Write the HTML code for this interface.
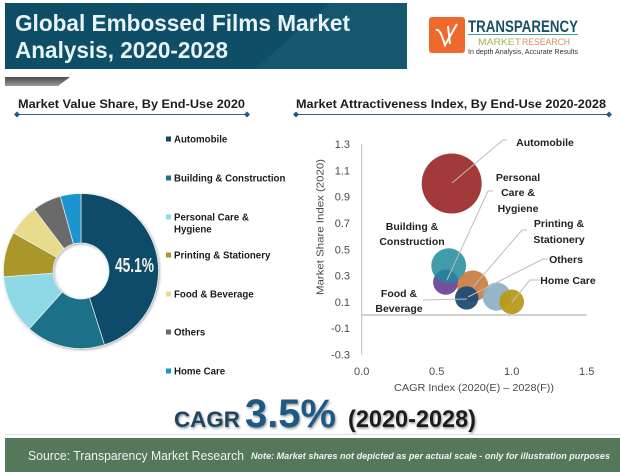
<!DOCTYPE html>
<html lang="en">
<head>
<meta charset="utf-8">
<title>Global Embossed Films Market Analysis</title>
<style>
html,body{margin:0;padding:0;background:#fff;}
svg{display:block;font-family:"Liberation Sans",sans-serif;}
.lg{font-size:9.7px;font-weight:bold;fill:#1c1c1c;}
.lb{font-size:10.5px;font-weight:bold;fill:#222;text-anchor:middle;}
.tk{font-size:11px;fill:#4a4a4a;}
</style>
</head>
<body>
<svg id="chart" width="620" height="472" viewBox="0 0 620 472" xmlns="http://www.w3.org/2000/svg">
<defs>
<linearGradient id="tg" x1="0" x2="1" y1="0" y2="0"><stop offset="0" stop-color="#0d4d66"/><stop offset="1" stop-color="#0f4f68"/></linearGradient>
<linearGradient id="gr" x1="0" x2="0" y1="0" y2="1"><stop offset="0" stop-color="#4a4a4a"/><stop offset="1" stop-color="#9a9a9a"/></linearGradient>
<filter id="ds" x="-10%" y="-10%" width="120%" height="120%"><feDropShadow dx="1" dy="1" stdDeviation="1.2" flood-color="#777" flood-opacity=".6"/></filter>
<filter id="ts" x="-10%" y="-10%" width="120%" height="130%"><feDropShadow dx="1" dy="1.5" stdDeviation="1" flood-color="#555" flood-opacity=".6"/></filter>
</defs>

<g>
<rect x="5" y="3" width="402" height="66" fill="url(#tg)"/>
<polygon points="255,69 330,3 407,3 407,69" fill="#15586e"/>
<text x="15" y="31" font-size="23.5" font-weight="bold" fill="#e8f3f5" textLength="335" lengthAdjust="spacingAndGlyphs">Global Embossed Films Market</text>
<text x="15" y="58" font-size="23.5" font-weight="bold" fill="#e8f3f5" textLength="213" lengthAdjust="spacingAndGlyphs">Analysis, 2020-2028</text>
</g>
<polygon points="5,77 70,77 58,86 5,86" fill="url(#gr)"/>

<g>
<rect x="429" y="17" width="36" height="36" rx="3" fill="#ee6a2c"/>
<path d="M436 30 C440 29 442 36 445 45 L457 24 M448 26 L450 44" fill="none" stroke="#fff" stroke-width="2"/>
<text x="468" y="32" font-size="17" font-weight="bold" fill="#1b4f66" textLength="110" lengthAdjust="spacingAndGlyphs">TRANSPARENCY</text>
<rect x="468" y="34" width="110" height="1" fill="#3aa0a8"/>
<text x="478" y="45" font-size="9.5" fill="#a9b04a" textLength="43" lengthAdjust="spacingAndGlyphs">MARKET</text>
<text x="522" y="45" font-size="9.5" fill="#d98a5c" textLength="48" lengthAdjust="spacingAndGlyphs">RESEARCH</text>
<text x="468" y="54" font-size="7.5" fill="#333" textLength="110" lengthAdjust="spacingAndGlyphs">In depth Analysis, Accurate Results</text>
</g>

<g>
<text x="18" y="108" font-size="12" font-weight="bold" fill="#1c1c1c" textLength="227" lengthAdjust="spacingAndGlyphs">Market Value Share, By End-Use 2020</text>
<line x1="17" y1="114.5" x2="247" y2="114.5" stroke="#3b5f7a" stroke-width="1"/>
<polygon points="17,111.5 20,114.5 17,117.5 14,114.5" fill="#1f5a85"/>
<polygon points="247,111.5 250,114.5 247,117.5 244,114.5" fill="#1f5a85"/>
</g>
<g>
<text x="296" y="108" font-size="12" font-weight="bold" fill="#1c1c1c" textLength="310" lengthAdjust="spacingAndGlyphs">Market Attractiveness Index, By End-Use 2020-2028</text>
<line x1="296" y1="114.5" x2="609" y2="114.5" stroke="#3b5f7a" stroke-width="1"/>
<polygon points="296,111.5 299,114.5 296,117.5 293,114.5" fill="#1f5a85"/>
<polygon points="609,111.5 612,114.5 609,117.5 606,114.5" fill="#1f5a85"/>
</g>

<g id="donut" filter="url(#ds)"></g>
<text x="115" y="272" font-size="20" font-weight="bold" fill="#f2f2f2" textLength="39" lengthAdjust="spacingAndGlyphs">45.1%</text>
<g id="legend"></g>

<g id="axes"></g>
<g id="bubbles"></g>
<g id="leaders" fill="none" stroke="#bcbcbc" stroke-width="1">
<polyline points="452,183 503,140 507,140"/>
<polyline points="447,280 488,191 493,191"/>
<polyline points="473,287 522,230 527,230"/>
<polyline points="468,297 543,259 548,259"/>
<polyline points="512,302 530,280 540,280"/>
<polyline points="423,300 467,299"/>
</g>
<g>
<text class="lb" x="545" y="146">Automobile</text>
<text class="lb" x="518" y="181">Personal</text>
<text class="lb" x="518" y="196">Care &amp;</text>
<text class="lb" x="518" y="212">Hygiene</text>
<text class="lb" x="559" y="227">Printing &amp;</text>
<text class="lb" x="559" y="243">Stationery</text>
<text class="lb" x="566" y="263">Others</text>
<text class="lb" x="568" y="284">Home Care</text>
<text class="lb" x="412" y="230">Building &amp;</text>
<text class="lb" x="412" y="245">Construction</text>
<text class="lb" x="399" y="297">Food &amp;</text>
<text class="lb" x="399" y="312">Beverage</text>
</g>

<g>
<text x="174" y="427" font-size="22" font-weight="bold" fill="#1f4560" filter="url(#ts)" textLength="66" lengthAdjust="spacingAndGlyphs">CAGR</text>
<text x="245" y="427" font-size="40" font-weight="bold" fill="#1f5a85" filter="url(#ts)" textLength="91" lengthAdjust="spacingAndGlyphs">3.5%</text>
<text x="348" y="427" font-size="24" font-weight="bold" fill="#1c1c1c" filter="url(#ts)" textLength="128" lengthAdjust="spacingAndGlyphs">(2020-2028)</text>
</g>
<line x1="5" y1="434.5" x2="620" y2="434.5" stroke="#ddd" stroke-width="1"/>
<g>
<rect x="5" y="438" width="615" height="34" fill="#55785a"/>
<text x="28" y="460" font-size="13" fill="#eef3ee" textLength="216" lengthAdjust="spacingAndGlyphs">Source: Transparency Market Research</text>
<text x="251" y="459" font-size="9.5" font-weight="bold" font-style="italic" fill="#eef3ee" textLength="359" lengthAdjust="spacingAndGlyphs">Note: Market shares not depicted as per actual scale - only for illustration purposes</text>
</g>

<script>
const categories = ['Automobile','Building & Construction','Personal Care & Hygiene','Printing & Stationery','Food & Beverage','Others','Home Care'];
const shareValues = [45.1,16.5,12.2,9.4,6.5,6.0,4.3];
const cagrIndex = [0.6,0.58,0.56,0.74,0.7,0.9,1.0];
const marketShareIndex = [1.0,0.375,0.25,0.22,0.13,0.14,0.1];
const bubbleSizeIndex = [1.0,0.58,0.42,0.52,0.39,0.47,0.41];
const yTickLabels = ['1.3','1.1','0.9','0.7','0.5','0.3','0.1','-0.1','-0.3'];
const xTickLabels = ['0.0','0.5','1.0','1.5'];

const NS = 'http://www.w3.org/2000/svg';
const donutColors = ['#0f4c68','#1b7189','#8fd8e6','#ab962a','#e6dc8c','#6a6a6a','#1b95cf'];
const bubbleOrder = [0,2,1,3,5,6,4];
const bubbleColors = ['#a33a3a','#1e8a9c','#6a4a93','#c9793d','#1f4b73','#8eb2c5','#b79a1a'];
const bubbleOpacity = [1,.85,.95,.9,.95,.95,.95];
const xScale = v => 361.7 + v * 150;
const yScale = v => 315 - v * 131.5;
const rScale = v => v * 30;
function mk(tag, attrs, parent){
  const e = document.createElementNS(NS, tag);
  for (const k in attrs) e.setAttribute(k, attrs[k]);
  parent.appendChild(e);
  return e;
}

const donut = document.getElementById('donut');
const total = shareValues.reduce((a,b)=>a+b,0);
const cx = 81, cy = 271, ro = 77.5, ri = 28;
let acc = 0;
shareValues.forEach((v,i)=>{
  const a0 = acc/total*2*Math.PI; acc += v;
  const a1 = acc/total*2*Math.PI;
  const p = (r,a)=>(cx+r*Math.sin(a)).toFixed(2)+' '+(cy-r*Math.cos(a)).toFixed(2);
  const large = a1-a0 > Math.PI ? 1 : 0;
  const slice = mk('path',{d:`M${p(ro,a0)} A${ro} ${ro} 0 ${large} 1 ${p(ro,a1)} L${p(ri,a1)} A${ri} ${ri} 0 ${large} 0 ${p(ri,a0)} Z`,fill:donutColors[i],stroke:'#e8f4f6','stroke-width':0.7},donut);
  
  
});

const legend = document.getElementById('legend');
const legendY = [139,178,217,255,294,332,371];
categories.forEach((c,i)=>{
  const sw = mk('rect',{x:166,y:legendY[i]-2.5,width:5,height:5,fill:donutColors[i]},legend);
  
  
  const lines = c === 'Personal Care & Hygiene' ? ['Personal Care &','Hygiene'] : [c];
  lines.forEach((ln,j)=>{
    const t = mk('text',{x:174,y:legendY[i]+3.5+j*12,class:'lg'},legend);
    t.textContent = ln;
    
    
  });
});

const axes = document.getElementById('axes');
mk('line',{x1:xScale(0),x2:xScale(0),y1:yScale(1.3),y2:yScale(-0.3),stroke:'#bdbdbd','stroke-width':1},axes);
mk('line',{x1:xScale(0),x2:xScale(1.5),y1:yScale(0),y2:yScale(0),stroke:'#a5a5a5','stroke-width':1},axes);
yTickLabels.forEach(s=>{
  const t = mk('text',{x:350,y:yScale(parseFloat(s))+4,class:'tk','text-anchor':'end'},axes);
  t.textContent = s;
  
  
});
xTickLabels.forEach(s=>{
  const t = mk('text',{x:xScale(parseFloat(s)),y:375,class:'tk','text-anchor':'middle'},axes);
  t.textContent = s;
  
  
});
const xTitle = mk('text',{x:474,y:391,'font-size':10.5,fill:'#4a4a4a','text-anchor':'middle',textLength:160,lengthAdjust:'spacingAndGlyphs'},axes);
xTitle.textContent = 'CAGR Index (2020(E) \u2013 2028(F))';


const yTitle = mk('text',{transform:'translate(323.5,227) rotate(-90)','font-size':10.5,fill:'#4a4a4a','text-anchor':'middle',textLength:136,lengthAdjust:'spacingAndGlyphs'},axes);
yTitle.textContent = 'Market Share Index (2020)';



const bubbles = document.getElementById('bubbles');
bubbleOrder.forEach(i=>{
  const b = mk('circle',{cx:xScale(cagrIndex[i]),cy:yScale(marketShareIndex[i]),r:rScale(bubbleSizeIndex[i]),fill:bubbleColors[i],'fill-opacity':bubbleOpacity[i]},bubbles);
  
  
});
</script>
</svg>
</body>
</html>
